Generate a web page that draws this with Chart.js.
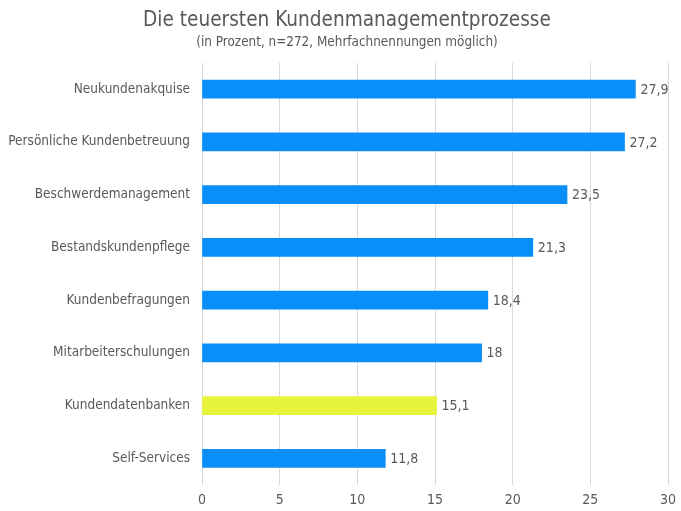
<!DOCTYPE html>
<html>
<head>
<meta charset="utf-8">
<script src="https://cdn.jsdelivr.net/npm/chart.js@4/dist/chart.umd.min.js"></script>
<style>
  html, body { margin: 0; padding: 0; background: #fff; }
  #wrap { width: 681px; height: 511px; }
</style>
</head>
<body>
<div id="wrap"><canvas id="chart" width="681" height="511"></canvas></div>
<script>
// Data
const categories = [
    'Neukundenakquise',
    'Persönliche Kundenbetreuung',
    'Beschwerdemanagement',
    'Bestandskundenpflege',
    'Kundenbefragungen',
    'Mitarbeiterschulungen',
    'Kundendatenbanken',
    'Self-Services'
];
const values = [27.9, 27.2, 23.5, 21.3, 18.4, 18, 15.1, 11.8];
const xTicks = [0, 5, 10, 15, 20, 25, 30];

const blue = '#0A8EF7';
const yellow = '#E8F43C';
const barColors = categories.map(c => c === 'Kundendatenbanken' ? yellow : blue);

const fontFamily = 'Tahoma, "DejaVu Sans Condensed", "Noto Sans", sans-serif';
const textColor = '#595959';

// draws value labels at the end of each bar
const valueLabels = {
    id: 'valueLabels',
    afterDatasetsDraw(chart) {
        const ctx = chart.ctx;
        const meta = chart.getDatasetMeta(0);
        ctx.save();
        ctx.font = '14px ' + fontFamily;
        ctx.fillStyle = textColor;
        ctx.textAlign = 'left';
        ctx.textBaseline = 'middle';
        meta.data.forEach((bar, i) => {
            const label = String(values[i]).replace('.', ',');
            ctx.fillText(label, bar.x + 5, bar.y + 1);
        });
        ctx.restore();
    }
};

// the titles in the original sit a bit right of the canvas centre
const shiftTitles = {
    id: 'shiftTitles',
    afterLayout(chart) {
        chart.boxes.forEach(box => {
            if (box.options && typeof box.options.text === 'string') {
                box.left += 26;
            }
        });
    }
};

new Chart(document.getElementById('chart').getContext('2d'), {
    type: 'bar',
    data: {
        labels: categories,
        datasets: [{
            data: values,
            backgroundColor: barColors,
            borderWidth: 0,
            barThickness: 18
        }]
    },
    options: {
        indexAxis: 'y',
        responsive: false,
        animation: false,
        layout: { padding: { left: 0, right: 13, top: 0, bottom: -4.5 } },
        plugins: {
            legend: { display: false },
            tooltip: { enabled: false },
            title: {
                display: true,
                text: 'Die teuersten Kundenmanagementprozesse',
                color: textColor,
                font: { family: fontFamily, size: 20.6, weight: 'normal' },
                padding: { top: 8, bottom: 0 }
            },
            subtitle: {
                display: true,
                text: '(in Prozent, n=272, Mehrfachnennungen möglich)',
                color: textColor,
                font: { family: fontFamily, size: 13.4, weight: 'normal' },
                padding: { top: 2, bottom: 12 }
            }
        },
        scales: {
            x: {
                min: 0,
                max: 30,
                afterBuildTicks(scale) {
                    scale.ticks = xTicks.map(v => ({ value: v }));
                },
                // let the last tick label overhang into the right margin
                afterFit(scale) { scale.paddingRight = 0; },
                grid: { color: '#D9D9D9', drawTicks: false },
                border: { display: false },
                ticks: {
                    color: textColor,
                    font: { family: fontFamily, size: 14 },
                    padding: 7
                }
            },
            y: {
                grid: { display: false },
                border: { display: false },
                afterFit(scale) { scale.width = 202; },
                ticks: {
                    color: textColor,
                    font: { family: fontFamily, size: 13.5 },
                    padding: 4
                }
            }
        }
    },
    plugins: [valueLabels, shiftTitles]
});
</script>
</body>
</html>
